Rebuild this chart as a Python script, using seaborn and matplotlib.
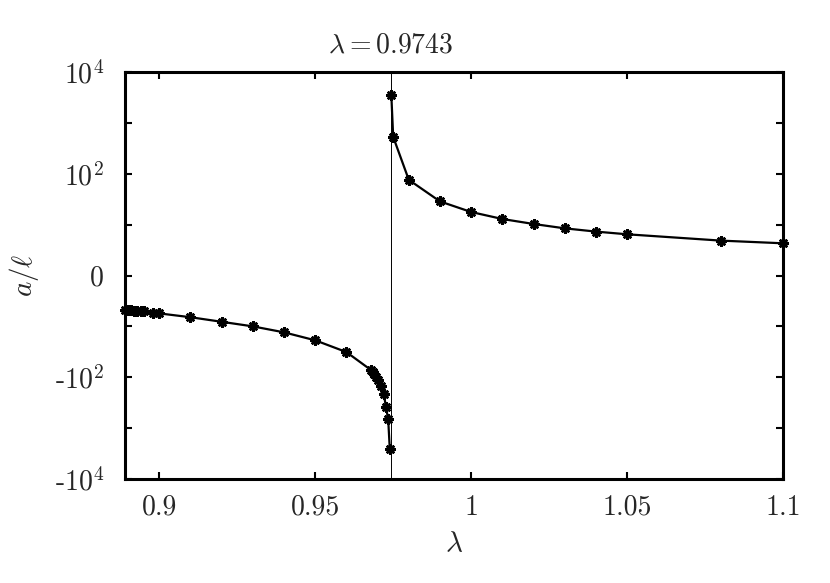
import numpy as np
import pandas as pd
import seaborn as sns
import matplotlib
matplotlib.use("Agg")
import matplotlib.pyplot as plt
from matplotlib.ticker import FixedLocator, FixedFormatter, NullFormatter
from matplotlib.transforms import blended_transform_factory

# Daten: Streulänge a/l gegen lambda, zwei Äste um die Resonanz
lam_c = 0.9743

lam_left = [0.889, 0.890, 0.891, 0.892, 0.893, 0.894, 0.895, 0.898, 0.900,
            0.910, 0.920, 0.930, 0.940, 0.950, 0.960, 0.968, 0.9685, 0.969,
            0.9695, 0.970, 0.971, 0.972, 0.9727, 0.9734, 0.9739]
a_left = [-6.80, -6.83, -6.86, -6.89, -6.92, -6.95, -6.98, -7.3, -7.45,
          -8.2, -9.1, -10.0, -13.1, -18.8, -32.0, -73.0, -80.0, -87.0,
          -100.0, -115.0, -150.0, -215.0, -390.0, -675.0, -2530.0]

lam_right = [0.9744, 0.975, 0.98, 0.99, 1.00, 1.01, 1.02, 1.03, 1.04, 1.05,
             1.08, 1.10]
a_right = [3540.0, 531.0, 76.0, 28.6, 17.7, 12.9, 10.3, 9.27, 8.63, 8.1,
           6.86, 6.33]

x_ticks = [0.9, 0.95, 1.0, 1.05, 1.1]
x_ticklabels = ["0.9", "0.95", "1", "1.05", "1.1"]
y_ticks = [-1e4, -1e2, 0, 1e2, 1e4]
y_ticklabels = ["-$10^4$", "-$10^2$", "0", "$10^2$", "$10^4$"]
y_minor = [-1e3, -10, 10, 1e3]

left = pd.DataFrame({"lam": lam_left, "a": a_left})
right = pd.DataFrame({"lam": lam_right, "a": a_right})

sns.set_style("ticks")
plt.rcParams["font.family"] = "serif"
plt.rcParams["font.serif"] = ["cmr10", "DejaVu Serif"]
plt.rcParams["mathtext.fontset"] = "cm"
plt.rcParams["axes.unicode_minus"] = False
plt.rcParams["axes.formatter.use_mathtext"] = True

fig = plt.figure(figsize=(8.3, 5.83), dpi=100)
ax = fig.add_axes([125 / 830, 1 - 479 / 583, 658 / 830, 407 / 583])

ax.axvline(lam_c, color="black", lw=0.7, zorder=1)

for df in (left, right):
    sns.lineplot(data=df, x="lam", y="a", ax=ax, color="black", lw=1.6,
                 marker=(8, 2, 0), markersize=7.5, markeredgewidth=1.8,
                 markeredgecolor="black", clip_on=False, zorder=3)

ax.set_yscale("symlog", linthresh=10, linscale=0.9)
ax.set_xlim(0.889, 1.1)
ax.set_ylim(-1e4, 1e4)

ax.xaxis.set_major_locator(FixedLocator(x_ticks))
ax.xaxis.set_major_formatter(FixedFormatter(x_ticklabels))
ax.yaxis.set_major_locator(FixedLocator(y_ticks))
ax.yaxis.set_major_formatter(FixedFormatter(y_ticklabels))
ax.yaxis.set_minor_locator(FixedLocator(y_minor))
ax.yaxis.set_minor_formatter(NullFormatter())
ax.xaxis.set_minor_locator(FixedLocator([]))

ax.tick_params(which="both", direction="in", top=True, right=True,
               length=5, width=1.5, labelsize=20, color="black")
ax.tick_params(axis="x", pad=11)
ax.tick_params(axis="y", pad=15)

for sp in ax.spines.values():
    sp.set_linewidth(2.2)
    sp.set_color("black")

ax.set_xlabel(r"$\lambda$", fontsize=21)
ax.set_ylabel(r"$a/\ell$", fontsize=21)
ax.xaxis.set_label_coords(0.5, -0.13)
ax.yaxis.set_label_coords(-0.128, 0.5)

trans = blended_transform_factory(ax.transData, ax.transAxes)
ax.text(lam_c, 1.066, r"$\lambda = 0.9743$", transform=trans,
        ha="center", va="center", fontsize=20)

ax.grid(False)
fig.savefig("out.png", dpi=100)
